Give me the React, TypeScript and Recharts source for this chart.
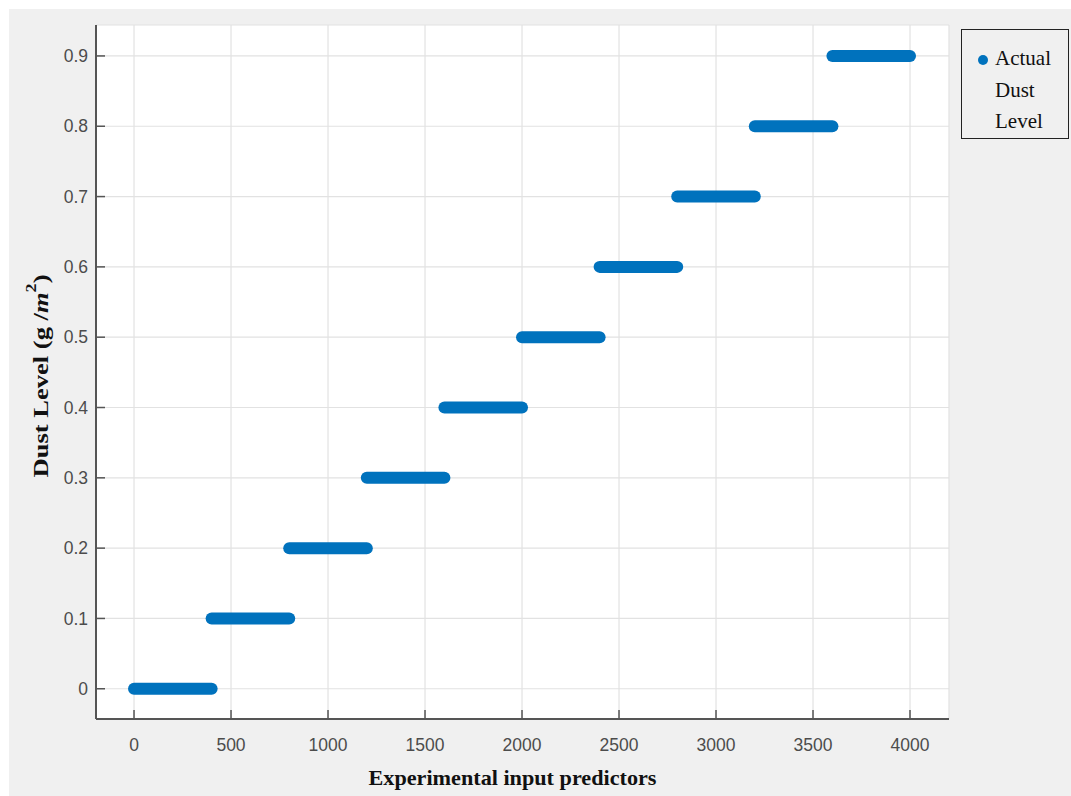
import { CartesianGrid, ComposedChart, Line, XAxis, YAxis } from 'recharts'

// dust level held for each block of experimental samples
const dustLevels = [0, 0.1, 0.2, 0.3, 0.4, 0.5, 0.6, 0.7, 0.8, 0.9]
const blockStart = [0, 400, 800, 1200, 1600, 2000, 2400, 2800, 3200, 3600]
const blockEnd = [400, 800, 1200, 1600, 2000, 2400, 2800, 3200, 3600, 4000]

const xTicks = [0, 500, 1000, 1500, 2000, 2500, 3000, 3500, 4000]
const yTicks = [0, 0.1, 0.2, 0.3, 0.4, 0.5, 0.6, 0.7, 0.8, 0.9]

const BLUE = '#0072BD'
const AXIS = '#555555'
const TICK_FONT = '"Liberation Sans", Arial, sans-serif'
const SERIF = '"Liberation Serif", "Times New Roman", serif'

const blocks = dustLevels.map((level, i) => ({
  key: `block-${i}`,
  data: [
    { x: blockStart[i], y: level },
    { x: blockEnd[i], y: level },
  ],
}))

function YTick(props: any) {
  const { x, y, payload } = props
  return (
    <g>
      <line x1={x + 8} x2={x + 17} y1={y} y2={y} stroke={AXIS} strokeWidth={1.5} />
      <text x={x} y={y} dy="0.35em" textAnchor="end" fill="#4c4c4c" fontSize={17.5} fontFamily={TICK_FONT}>
        {payload.value}
      </text>
    </g>
  )
}

function XTick(props: any) {
  const { x, y, payload } = props
  return (
    <g>
      <line x1={x} x2={x} y1={y} y2={y - 9} stroke={AXIS} strokeWidth={1.5} />
      <text x={x} y={y + 26} dy="0.35em" textAnchor="middle" fill="#4c4c4c" fontSize={17.5} fontFamily={TICK_FONT}>
        {payload.value}
      </text>
    </g>
  )
}

function YTitle(props: any) {
  const { viewBox } = props
  const cx = 31
  const cy = viewBox.y + viewBox.height / 2 + 4
  return (
    <text
      x={cx}
      y={cy}
      transform={`rotate(-90, ${cx}, ${cy})`}
      textAnchor="middle"
      dominantBaseline="central"
      fontFamily={SERIF}
      fontWeight="bold"
      fontSize={22}
      textLength={203}
      lengthAdjust="spacingAndGlyphs"
      fill="#111"
    >
      Dust Level (g /<tspan fontStyle="italic">m</tspan>
      <tspan dy={-9} fontSize={15}>2</tspan>
      <tspan dy={9}>)</tspan>
    </text>
  )
}

function XTitle(props: any) {
  const { viewBox } = props
  return (
    <text
      x={viewBox.x + viewBox.width / 2 - 10}
      y={viewBox.y + 58}
      textAnchor="middle"
      dominantBaseline="central"
      fontFamily={SERIF}
      fontWeight="bold"
      fontSize={22}
      textLength={288}
      lengthAdjust="spacingAndGlyphs"
      fill="#111"
    >
      Experimental input predictors
    </text>
  )
}

export default function App() {
  return (
    <div
      style={{
        position: 'fixed',
        left: 9,
        top: 9,
        width: 1062,
        height: 787,
        background: '#f0f0f0',
      }}
    >
      <ComposedChart width={1062} height={787} margin={{ top: 16, right: 122, left: 0, bottom: 17 }}>
        <CartesianGrid stroke="#e2e2e2" fill="#ffffff" strokeWidth={1.2} />
        <XAxis
          type="number"
          dataKey="x"
          domain={[-196, 4201]}
          ticks={xTicks}
          allowDataOverflow
          height={60}
          tickSize={0}
          tickMargin={0}
          tickLine={false}
          axisLine={{ stroke: AXIS, strokeWidth: 2 }}
          tick={<XTick />}
          label={<XTitle />}
        />
        <YAxis
          type="number"
          dataKey="y"
          domain={[-0.043, 0.944]}
          ticks={yTicks}
          allowDataOverflow
          width={87}
          tickSize={0}
          tickMargin={8}
          tickLine={false}
          axisLine={{ stroke: AXIS, strokeWidth: 2 }}
          tick={<YTick />}
          label={<YTitle />}
        />
        {blocks.map((b) => (
          <Line
            key={b.key}
            data={b.data}
            dataKey="y"
            type="linear"
            stroke={BLUE}
            strokeWidth={12}
            strokeLinecap="round"
            dot={false}
            activeDot={false}
            legendType="none"
            isAnimationActive={false}
          />
        ))}
      </ComposedChart>
      <div
        style={{
          position: 'absolute',
          left: 952,
          top: 20,
          width: 108,
          height: 110,
          border: '1.5px solid #222',
          background: '#f0f0f0',
          boxSizing: 'border-box',
          paddingTop: 13,
          fontFamily: SERIF,
          fontSize: 21,
          lineHeight: '31.5px',
          color: '#111',
        }}
      >
        <div style={{ position: 'relative', paddingLeft: 33 }}>
          <span
            style={{
              position: 'absolute',
              left: 16,
              top: 12,
              width: 10,
              height: 10,
              borderRadius: '50%',
              background: BLUE,
            }}
          />
          Actual
        </div>
        <div style={{ paddingLeft: 33 }}>Dust</div>
        <div style={{ paddingLeft: 33 }}>Level</div>
      </div>
    </div>
  )
}
